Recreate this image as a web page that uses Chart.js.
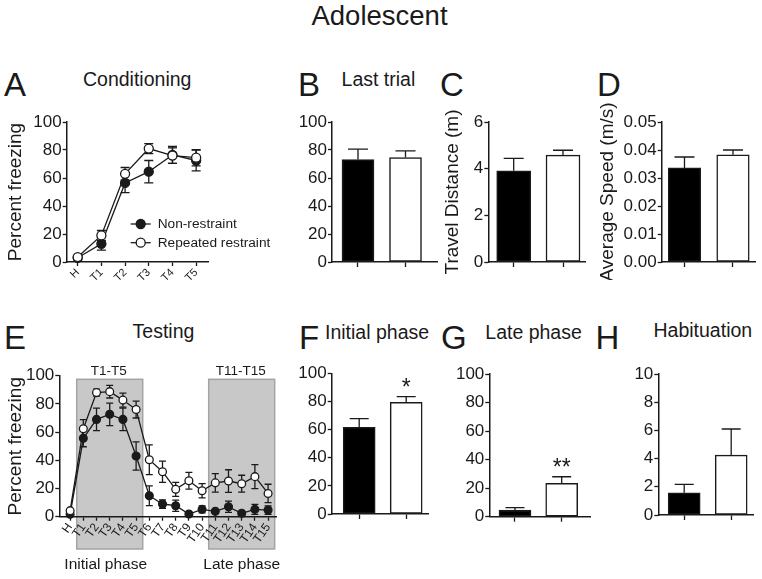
<!DOCTYPE html>
<html><head><meta charset="utf-8">
<script src="https://cdn.jsdelivr.net/npm/chart.js@4"></script>
<style>
html,body{margin:0;padding:0;background:#fff;width:762px;height:579px;overflow:hidden;font-family:"Liberation Sans",Arial,sans-serif;color:#1a1a1a}
canvas{position:absolute}
.t{position:absolute;line-height:1;white-space:nowrap}
</style></head><body>
<div class="t" style="left:379.5px;top:1.7px;font-size:27.5px;transform:translateX(-50%)">Adolescent</div>
<div class="t" style="left:4px;top:67.6px;font-size:33px">A</div>
<div class="t" style="left:298px;top:67.6px;font-size:33px">B</div>
<div class="t" style="left:440px;top:67.6px;font-size:33px">C</div>
<div class="t" style="left:597px;top:67.6px;font-size:33px">D</div>
<div class="t" style="left:4px;top:321px;font-size:33px">E</div>
<div class="t" style="left:299px;top:321px;font-size:33px">F</div>
<div class="t" style="left:441px;top:321px;font-size:33px">G</div>
<div class="t" style="left:595.5px;top:321px;font-size:33px">H</div>
<div class="t" style="left:83px;top:70.2px;font-size:19.5px">Conditioning</div>
<div class="t" style="left:341.6px;top:70.2px;font-size:19.5px">Last trial</div>
<div class="t" style="left:132.6px;top:321.8px;font-size:19.5px">Testing</div>
<div class="t" style="left:325px;top:323px;font-size:19.5px">Initial phase</div>
<div class="t" style="left:485.3px;top:322.8px;font-size:19.5px">Late phase</div>
<div class="t" style="left:653.5px;top:320.8px;font-size:19.5px">Habituation</div>
<script>
// ---------------- data ----------------
const groups = ['Non-restraint', 'Repeated restraint'];

const trialsA = ['H', 'T1', 'T2', 'T3', 'T4', 'T5'];
const condNon = [3, 13, 56.5, 64.5, 76.5, 72.5];
const condNonSem = [1.5, 4.5, 7, 8, 6, 7.4];
const condRep = [3.5, 19, 63, 81, 76, 74.5];
const condRepSem = [1, 3.5, 4.5, 3.6, 5.5, 5.8];

const trialsE = ['H', 'T1', 'T2', 'T3', 'T4', 'T5', 'T6', 'T7', 'T8', 'T9', 'T10', 'T11', 'T12', 'T13', 'T14', 'T15'];
const testNon = [1.7, 55.6, 69, 72.6, 69, 43, 14.9, 9, 7.8, 1.9, 5.2, 3.8, 7, 2.4, 5.2, 4.7];
const testNonSem = [1, 6, 8, 8, 8, 10, 7, 3, 4, 1, 2.5, 1.2, 4, 1, 3.5, 3];
const testRep = [4.3, 62.4, 88, 88.7, 82.7, 76, 40.4, 31.9, 19.4, 25.5, 18.4, 24, 25.3, 23.4, 28.4, 16.5];
const testRepSem = [1, 6.5, 2.5, 4.5, 5, 6, 10.5, 7.5, 5, 6, 5, 6.5, 8, 6, 8.5, 6.5];

const phaseStart = [1, 11];
const phaseEnd = [5, 15];
const phaseTrials = ['T1-T5', 'T11-T15'];
const phaseNames = ['Initial phase', 'Late phase'];

const lastTrial = [73.2, 74.6];
const lastTrialSem = [7.4, 4.8];
const travelDist = [3.91, 4.58];
const travelDistSem = [0.53, 0.21];
const avgSpeed = [0.0336, 0.0383];
const avgSpeedSem = [0.0039, 0.0017];
const initialPhase = [61.6, 79.4];
const initialPhaseSem = [6.2, 4.0];
const latePhase = [4.7, 23.4];
const latePhaseSem = [1.6, 4.6];
const habituation = [1.58, 4.25];
const habituationSem = [0.59, 1.85];
const sigInitial = ['', '*'];
const sigLate = ['', '**'];

// ---------------- helpers ----------------
const INK = '#1a1a1a';
const FONT = '"Liberation Sans", Arial, sans-serif';
Chart.defaults.font.family = FONT;
Chart.defaults.color = INK;

function makeCanvas(box) {
  const c = document.createElement('canvas');
  c.width = box.width; c.height = box.height;
  c.style.left = box.left + 'px'; c.style.top = box.top + 'px';
  c.style.width = box.width + 'px'; c.style.height = box.height + 'px';
  document.body.appendChild(c);
  return c;
}
function frame(box, area) {
  return {
    yWidth: area.l - box.left,
    padTop: area.t - box.top,
    padRight: box.left + box.width - area.r,
    xHeight: box.top + box.height - area.b
  };
}
function yScale(fr, min, max, step, title, titlePad, fmt) {
  return {
    type: 'linear', min: min, max: max,
    ticks: { stepSize: step, color: INK, font: { size: 17 }, padding: 1,
             callback: fmt || (v => String(v)) },
    grid: { drawOnChartArea: false, drawTicks: true, tickLength: 4, tickColor: INK, tickWidth: 1.3 },
    border: { display: true, color: INK, width: 1.5 },
    title: title ? { display: true, text: title, color: INK, font: { size: 19 }, padding: { top: titlePad, bottom: 0 } } : { display: false },
    afterFit(s) { s.width = fr.yWidth; s.paddingTop = 0; s.paddingBottom = 0; }
  };
}
function xBar(fr, min, max) {
  return {
    type: 'linear', min: min, max: max, offset: false,
    afterBuildTicks(s) { s.ticks = [{ value: 1 }, { value: 2 }]; },
    ticks: { autoSkip: false, callback: () => '' },
    grid: { offset: false, drawOnChartArea: false, drawTicks: true, tickLength: 5, tickColor: INK, tickWidth: 1.3 },
    border: { display: true, color: INK, width: 1.5 },
    afterFit(s) { s.height = fr.xHeight; s.paddingLeft = 0; s.paddingRight = 0; }
  };
}
function xTrials(fr, labels, min, max, rot, size) {
  return {
    type: 'linear', min: min, max: max, offset: false,
    afterBuildTicks(s) { s.ticks = labels.map((_, i) => ({ value: i })); },
    ticks: { autoSkip: false, minRotation: rot, maxRotation: rot, padding: 0, color: INK,
             font: { size: size }, callback: v => labels[v] },
    grid: { offset: false, drawOnChartArea: false, drawTicks: true, tickLength: 4, tickColor: INK, tickWidth: 1.3 },
    border: { display: true, color: INK, width: 1.5 },
    afterFit(s) { s.height = fr.xHeight; s.paddingLeft = 0; s.paddingRight = 0; }
  };
}
function errorBars(cap, mode, hook) {
  return {
    id: 'errbars',
    [hook](chart) {
      const ctx = chart.ctx, ys = chart.scales.y;
      ctx.save();
      ctx.strokeStyle = INK; ctx.lineWidth = 1.3;
      chart.data.datasets.forEach((ds, di) => {
        const meta = chart.getDatasetMeta(di);
        meta.data.forEach((el, i) => {
          const v = ds.data[i].y, e = ds.sem[i];
          const top = ys.getPixelForValue(v + e);
          const bot = mode === 'both' ? ys.getPixelForValue(v - e) : ys.getPixelForValue(v);
          ctx.beginPath();
          ctx.moveTo(el.x, bot); ctx.lineTo(el.x, top);
          ctx.moveTo(el.x - cap / 2, top); ctx.lineTo(el.x + cap / 2, top);
          if (mode === 'both') { ctx.moveTo(el.x - cap / 2, bot); ctx.lineTo(el.x + cap / 2, bot); }
          ctx.stroke();
          if (ds.marks && ds.marks[i]) {
            ctx.fillStyle = INK;
            ctx.font = '23px ' + FONT;
            ctx.textAlign = 'center'; ctx.textBaseline = 'alphabetic';
            ctx.fillText(ds.marks[i], el.x, top - 2);
          }
        });
      });
      ctx.restore();
    }
  };
}
function base(fr, xs, ys) {
  return {
    responsive: false, animation: false, devicePixelRatio: 1,
    layout: { padding: { top: fr.padTop, right: fr.padRight, left: 0, bottom: 0 } },
    plugins: { legend: { display: false }, tooltip: { enabled: false } },
    scales: { x: xs, y: ys }
  };
}
function lineSets(non, nonSem, rep, repSem, r) {
  return [
    { label: groups[0], data: non.map((y, i) => ({ x: i, y: y })), sem: nonSem, order: 2,
      borderColor: INK, borderWidth: 1.3, pointRadius: r, pointBorderWidth: 1.3,
      pointBackgroundColor: INK, pointBorderColor: INK, fill: false, tension: 0, clip: false },
    { label: groups[1], data: rep.map((y, i) => ({ x: i, y: y })), sem: repSem, order: 1,
      borderColor: INK, borderWidth: 1.3, pointRadius: r, pointBorderWidth: 1.3,
      pointBackgroundColor: '#fff', pointBorderColor: INK, fill: false, tension: 0, clip: false }
  ];
}
function barChart(box, area, vals, sem, marks, yMin, yMax, step, title, titlePad, fmt, xMin, xMax, thick, cap) {
  const fr = frame(box, area);
  new Chart(makeCanvas(box), {
    type: 'bar',
    data: { datasets: [{
      data: vals.map((y, i) => ({ x: i + 1, y: y })), sem: sem, marks: marks,
      backgroundColor: ['#000', '#fff'], borderColor: INK, borderWidth: 1.5,
      borderSkipped: false, barThickness: thick, clip: false
    }] },
    options: base(fr, xBar(fr, xMin, xMax), yScale(fr, yMin, yMax, step, title, titlePad, fmt)),
    plugins: [errorBars(cap, 'up', 'afterDatasetsDraw')]
  });
}

// ---------------- Panel A ----------------
(function () {
  const box = { left: 0, top: 108, width: 288, height: 182 };
  const fr = frame(box, { l: 66.7, t: 122, r: 208, b: 262 });
  const legendPlugin = {
    id: 'legA',
    afterDraw(chart) {
      const ctx = chart.ctx, ca = chart.chartArea;
      ctx.save();
      chart.data.datasets.forEach((ds, i) => {
        const x0 = ca.left + 64, y = ca.top + 102 + i * 18.7;
        ctx.strokeStyle = INK; ctx.lineWidth = 1.3;
        ctx.beginPath(); ctx.moveTo(x0, y); ctx.lineTo(x0 + 20, y); ctx.stroke();
        ctx.beginPath(); ctx.arc(x0 + 10, y, 4.5, 0, Math.PI * 2);
        ctx.fillStyle = ds.pointBackgroundColor; ctx.fill(); ctx.stroke();
        ctx.fillStyle = INK; ctx.font = '13.7px ' + FONT;
        ctx.textAlign = 'left'; ctx.textBaseline = 'middle';
        ctx.fillText(ds.label, x0 + 27, y + 0.5);
      });
      ctx.restore();
    }
  };
  new Chart(makeCanvas(box), {
    type: 'line',
    data: { datasets: lineSets(condNon, condNonSem, condRep, condRepSem, 4.5) },
    options: base(fr, xTrials(fr, trialsA, -0.464, 5.5, 45, 11),
                  yScale(fr, 0, 100, 20, 'Percent freezing', 4.6)),
    plugins: [errorBars(9, 'both', 'beforeDatasetsDraw'), legendPlugin]
  });
})();

// ---------------- Panels B, C, D ----------------
barChart({ left: 290, top: 108, width: 150, height: 170 }, { l: 332, t: 122, r: 437, b: 262 },
  lastTrial, lastTrialSem, null, 0, 100, 20, null, 0, null, 0.453, 2.663, 32, 20);
barChart({ left: 440, top: 90, width: 150, height: 190 }, { l: 488.3, t: 122, r: 585, b: 262 },
  travelDist, travelDistSem, null, 0, 6, 2, 'Travel Distance (m)', 1.1, null, 0.485, 2.446, 34, 20);
barChart({ left: 595, top: 90, width: 165, height: 190 }, { l: 661.7, t: 122, r: 755, b: 262 },
  avgSpeed, avgSpeedSem, null, 0, 0.05, 0.01, 'Average Speed (m/s)', 1.1, v => Number(v).toFixed(2), 0.53, 2.454, 32.5, 20);

// ---------------- Panel E ----------------
(function () {
  const box = { left: 0, top: 355, width: 290, height: 222 };
  const fr = frame(box, { l: 59.3, t: 375.7, r: 276, b: 516.7 });
  const phasePlugin = {
    id: 'phases',
    beforeDraw(chart) {
      const ctx = chart.ctx, ca = chart.chartArea, xs = chart.scales.x;
      ctx.save();
      phaseStart.forEach((s, i) => {
        const x1 = xs.getPixelForValue(s - 0.5), x2 = xs.getPixelForValue(phaseEnd[i] + 0.5);
        const y1 = ca.top + 3.6, y2 = ca.bottom + 32.3;
        ctx.fillStyle = '#c8c8c8';
        ctx.fillRect(x1, y1, x2 - x1, y2 - y1);
        ctx.strokeStyle = '#a4a4a4'; ctx.lineWidth = 1.5;
        ctx.strokeRect(x1, y1, x2 - x1, y2 - y1);
        ctx.fillStyle = INK; ctx.textAlign = 'center'; ctx.textBaseline = 'middle';
        ctx.font = '13.5px ' + FONT;
        ctx.fillText(phaseTrials[i], (x1 + x2) / 2 - 1, y1 - 8);
        ctx.font = '15.5px ' + FONT;
        ctx.fillText(phaseNames[i], (x1 + x2) / 2 - (i === 0 ? 4 : 0), y2 + 16);
      });
      ctx.restore();
    }
  };
  new Chart(makeCanvas(box), {
    type: 'line',
    data: { datasets: lineSets(testNon, testNonSem, testRep, testRepSem, 3.9) },
    options: base(fr, xTrials(fr, trialsE, -0.82, 15.6, 55, 12),
                  yScale(fr, 0, 100, 20, 'Percent freezing', 4.6)),
    plugins: [phasePlugin, errorBars(7, 'both', 'beforeDatasetsDraw')]
  });
})();

// ---------------- Panels F, G, H ----------------
barChart({ left: 290, top: 355, width: 145, height: 175 }, { l: 331.7, t: 373.3, r: 428, b: 514 },
  initialPhase, initialPhaseSem, sigInitial, 0, 100, 20, null, 0, null, 0.415, 2.464, 32, 19);
barChart({ left: 445, top: 355, width: 150, height: 175 }, { l: 489.3, t: 374, r: 590, b: 516.7 },
  latePhase, latePhaseSem, sigLate, 0, 100, 20, null, 0, null, 0.45, 2.606, 32, 19);
barChart({ left: 615, top: 355, width: 145, height: 175 }, { l: 658.3, t: 374, r: 753, b: 515 },
  habituation, habituationSem, null, 0, 10, 2, null, 0, null, 0.449, 2.464, 32, 19);
</script>
</body></html>
